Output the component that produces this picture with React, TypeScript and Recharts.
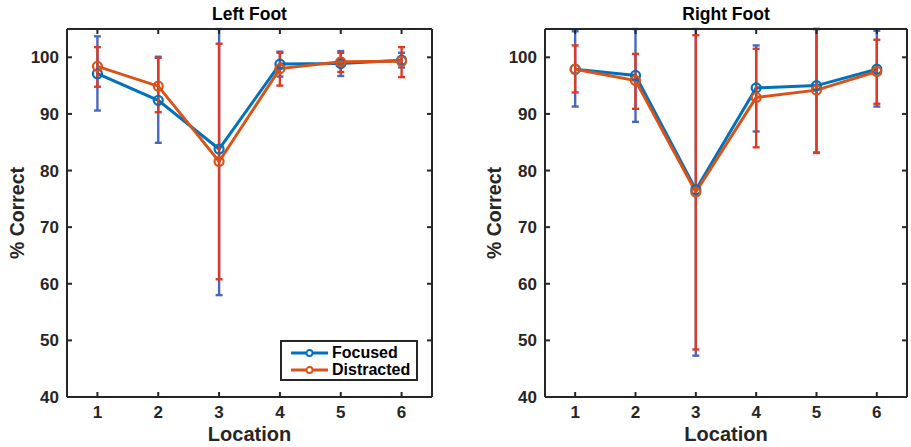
import React from 'react';
import { ComposedChart, Line, XAxis, YAxis, ErrorBar } from 'recharts';

const locations = [1, 2, 3, 4, 5, 6];
const xTicks = [1, 2, 3, 4, 5, 6];
const yTicks = [40, 50, 60, 70, 80, 90, 100];
const Y_MIN = 40;
const Y_MAX = 105;

const leftFocused = [97.1, 92.4, 83.8, 98.8, 98.9, 99.5];
const leftFocusedLow = [90.6, 84.9, 58.0, 96.6, 96.7, 98.2];
const leftFocusedHigh = [103.7, 100.1, 109.6, 101.0, 101.1, 100.8];
const leftDistracted = [98.4, 94.9, 81.6, 98.0, 99.2, 99.3];
const leftDistractedLow = [94.8, 90.3, 60.8, 95.0, 97.4, 96.5];
const leftDistractedHigh = [101.8, 99.9, 102.4, 100.8, 100.8, 101.8];

const rightFocused = [97.9, 96.8, 76.6, 94.6, 95.0, 97.9];
const rightFocusedLow = [91.3, 88.6, 47.3, 86.9, 83.2, 91.3];
const rightFocusedHigh = [104.6, 105.0, 105.9, 102.1, 106.8, 104.7];
const rightDistracted = [97.9, 95.9, 76.2, 92.9, 94.2, 97.5];
const rightDistractedLow = [93.8, 90.9, 48.4, 84.1, 83.1, 91.8];
const rightDistractedHigh = [102.1, 100.6, 103.9, 101.5, 105.3, 103.1];

const BLUE = '#0072BD';
const ORANGE = '#D95319';
const BLUE_ERR = '#4A67C0';
const RED_ERR = '#DC3A26';
const AXIS = '#262626';
const FONT = '"Liberation Sans", Arial, Helvetica, sans-serif';

// error bars are cut at the edges of the axes box, like the original's clipping
function errOf(v: number, lo: number, hi: number) {
  return [v - Math.max(lo, Y_MIN), Math.min(hi, Y_MAX) - v];
}

function build(f: number[], fl: number[], fh: number[], d: number[], dl: number[], dh: number[]) {
  return locations.map((loc, i) => ({
    loc,
    focused: f[i],
    focusedErr: errOf(f[i], fl[i], fh[i]),
    distracted: d[i],
    distractedErr: errOf(d[i], dl[i], dh[i]),
  }));
}

const leftData = build(leftFocused, leftFocusedLow, leftFocusedHigh, leftDistracted, leftDistractedLow, leftDistractedHigh);
const rightData = build(rightFocused, rightFocusedLow, rightFocusedHigh, rightDistracted, rightDistractedLow, rightDistractedHigh);

const TICK_LEN = 5;
const BOTTOM_MARGIN = 9;
const LEFT_MARGIN = 8;

const tickText = { fontSize: 17, fontWeight: 700, fontFamily: FONT };

const BottomTick = (props: any) => {
  const { x, y, payload } = props;
  const ay = y - BOTTOM_MARGIN;
  return (
    <g>
      <line x1={x} y1={ay} x2={x} y2={ay - TICK_LEN} stroke={AXIS} strokeWidth={2} />
      <text x={x} y={y} dy="0.71em" textAnchor="middle" fill={AXIS} style={tickText}>
        {payload.value}
      </text>
    </g>
  );
};

const LeftTick = (props: any) => {
  const { x, y, payload } = props;
  const ax = x + LEFT_MARGIN;
  return (
    <g>
      <line x1={ax} y1={y} x2={ax + TICK_LEN} y2={y} stroke={AXIS} strokeWidth={2} />
      <text x={x} y={y} dy="0.355em" textAnchor="end" fill={AXIS} style={tickText}>
        {payload.value}
      </text>
    </g>
  );
};

const TopTick = (props: any) => {
  const { x, y } = props;
  return <line x1={x} y1={y} x2={x} y2={y + TICK_LEN} stroke={AXIS} strokeWidth={2} />;
};

const RightTick = (props: any) => {
  const { x, y } = props;
  return <line x1={x} y1={y} x2={x - TICK_LEN} y2={y} stroke={AXIS} strokeWidth={2} />;
};

function Panel({ data, title, marginLeft, marginRight, width, yLabelX }: any) {
  const YLabel = (props: any) => {
    const vb = props.viewBox;
    const cy = vb.y + vb.height / 2;
    return (
      <text
        x={yLabelX}
        y={cy}
        transform={`rotate(-90 ${yLabelX} ${cy})`}
        textAnchor="middle"
        fill={AXIS}
        style={{ fontSize: 19.5, fontWeight: 700, fontFamily: FONT }}
      >
        % Correct
      </text>
    );
  };
  const axisLine = { stroke: AXIS, strokeWidth: 2 };
  return (
    <ComposedChart
      width={width}
      height={447}
      data={data}
      margin={{ top: 28, right: marginRight, bottom: 0, left: marginLeft }}
    >
      <XAxis
        dataKey="loc"
        type="number"
        domain={[0.5, 6.5]}
        ticks={xTicks}
        allowDataOverflow
        height={50}
        stroke={AXIS}
        tickSize={0}
        tickMargin={BOTTOM_MARGIN}
        tick={<BottomTick />}
        tickLine={false}
        axisLine={axisLine}
        label={{ value: 'Location', position: 'insideBottom', offset: 6, fill: AXIS, style: { fontSize: 20, fontWeight: 700, fontFamily: FONT } }}
      />
      <XAxis
        xAxisId="top"
        orientation="top"
        dataKey="loc"
        type="number"
        domain={[0.5, 6.5]}
        ticks={xTicks}
        allowDataOverflow
        height={1}
        stroke={AXIS}
        tickSize={0}
        tickMargin={0}
        tick={<TopTick />}
        tickLine={false}
        axisLine={axisLine}
        label={{ value: title, position: 'top', offset: 8, fill: '#000', style: { fontSize: 17.5, fontWeight: 700, fontFamily: FONT } }}
      />
      <YAxis
        type="number"
        domain={[Y_MIN, Y_MAX]}
        ticks={yTicks}
        allowDataOverflow
        width={40}
        stroke={AXIS}
        tickSize={0}
        tickMargin={LEFT_MARGIN}
        tick={<LeftTick />}
        tickLine={false}
        axisLine={axisLine}
        label={<YLabel />}
      />
      <YAxis
        yAxisId="right"
        orientation="right"
        type="number"
        domain={[Y_MIN, Y_MAX]}
        ticks={yTicks}
        allowDataOverflow
        width={1}
        stroke={AXIS}
        tickSize={0}
        tickMargin={0}
        tick={<RightTick />}
        tickLine={false}
        axisLine={axisLine}
      />
      <Line
        dataKey="focused"
        stroke={BLUE}
        strokeWidth={3}
        dot={{ r: 4.5, stroke: BLUE, strokeWidth: 2.2, fill: 'none' }}
        activeDot={false}
        isAnimationActive={false}
      >
        <ErrorBar dataKey="focusedErr" direction="y" width={3.5} stroke={BLUE_ERR} strokeWidth={2.4} isAnimationActive={false} />
      </Line>
      <Line
        dataKey="distracted"
        stroke={ORANGE}
        strokeWidth={3}
        dot={{ r: 4.5, stroke: ORANGE, strokeWidth: 2.2, fill: 'none' }}
        activeDot={false}
        isAnimationActive={false}
      >
        <ErrorBar dataKey="distractedErr" direction="y" width={3.5} stroke={RED_ERR} strokeWidth={2.4} isAnimationActive={false} />
      </Line>
    </ComposedChart>
  );
}

function LegendBox() {
  const items = [
    { name: 'Focused', color: BLUE },
    { name: 'Distracted', color: ORANGE },
  ];
  return (
    <div
      style={{
        position: 'absolute',
        left: 280,
        top: 340,
        width: 134,
        height: 37,
        border: `2px solid ${AXIS}`,
        background: '#fff',
        fontFamily: FONT,
        fontWeight: 700,
        fontSize: 16,
        color: '#000',
        boxSizing: 'content-box',
      }}
    >
      {items.map((it, i) => (
        <div key={it.name} style={{ position: 'absolute', left: 8, top: 2 + i * 17, height: 17, display: 'flex', alignItems: 'center' }}>
          <svg width={40} height={10} style={{ display: 'block' }}>
            <line x1={1} y1={5} x2={38} y2={5} stroke={it.color} strokeWidth={2.8} />
            <circle cx={19.5} cy={5} r={3} stroke={it.color} strokeWidth={1.8} fill="#fff" />
          </svg>
          <span style={{ marginLeft: 2, lineHeight: '17px' }}>{it.name}</span>
        </div>
      ))}
    </div>
  );
}

export default function App() {
  return (
    <div style={{ position: 'absolute', left: 0, top: 0, width: 911, height: 447, background: '#fff' }}>
      <div style={{ position: 'absolute', left: 0, top: 0 }}>
        <Panel data={leftData} title="Left Foot" marginLeft={27} marginRight={17} width={450} yLabelX={24} />
      </div>
      <div style={{ position: 'absolute', left: 455, top: 0 }}>
        <Panel data={rightData} title="Right Foot" marginLeft={50} marginRight={3} width={456} yLabelX={46} />
      </div>
      <LegendBox />
    </div>
  );
}
